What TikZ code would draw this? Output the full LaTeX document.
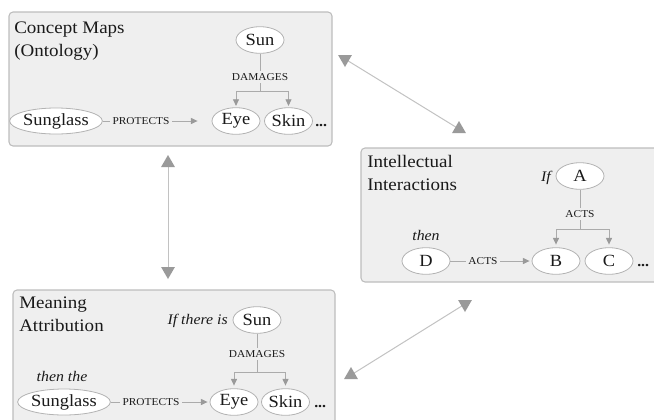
\documentclass[tikz,border=0pt]{standalone}
\usepackage{fontspec}
\setmainfont{Liberation Serif}[FakeStretch=1.08]
\usetikzlibrary{shapes.geometric,arrows.meta}

\definecolor{panelfill}{HTML}{EFEFEF}
\definecolor{panelline}{HTML}{BDBDBD}
\definecolor{ovalline}{HTML}{B3B3B3}
\definecolor{linkline}{HTML}{ABABAB}
\definecolor{tipfill}{HTML}{9A9A9A}
\definecolor{bigline}{HTML}{C2C2C2}
\definecolor{inkc}{HTML}{1A1A1A}

\tikzset{
  panel/.style={draw=panelline, fill=panelfill, rounded corners=3pt, line width=0.8pt},
  concept/.style={ellipse, draw=ovalline, fill=white, minimum width=36pt,
    minimum height=20pt, inner sep=0pt, line width=0.6pt,
    font=\fontsize{12.8}{14}\selectfont, text=inkc},
  wideconcept/.style={concept, minimum width=61.5pt, minimum height=19.5pt},
  relation/.style={font=\fontsize{7.9}{9}\selectfont, text=inkc, inner sep=2pt},
  paneltitle/.style={anchor=north west, align=left, inner sep=0pt,
    font=\fontsize{13.2}{17}\selectfont, text=inkc},
  cue/.style={font=\itshape\fontsize{11}{13}\selectfont, text=inkc, inner sep=0pt},
  more/.style={anchor=base west, inner sep=0pt, font=\bfseries\fontsize{11}{14}\selectfont, text=inkc},
  link/.style={draw=linkline, line width=0.7pt},
  linkarrow/.style={link, -{Triangle[length=5pt,width=4.5pt,color=tipfill]}},
  tipup/.style={regular polygon, regular polygon sides=3, fill=tipfill,
    minimum size=12pt, inner sep=0pt},
  tipdown/.style={tipup, shape border rotate=180},
  bigline/.style={draw=bigline, line width=0.75pt}
}

\begin{document}
\begin{tikzpicture}[x=0.75pt, y=-0.75pt]
\useasboundingbox (0,0) rectangle (654,419);
\clip (0,0) rectangle (654,419);

% ---------- panels ----------
\path[panel] (9,12) rectangle (332,146);
\path[panel] (361,148) rectangle (680,282);
\path[panel] (13,290) rectangle (335,440);

% ---------- Concept Maps (Ontology) ----------
\node[paneltitle] (t1) at (14,22) {Concept Maps\\(Ontology)};
\node[concept] (sun1) at (260,40) {Sun};
\node[concept] (eye1) at (236,121) {Eye};
\node[concept] (skin1) at (288.5,121) {Skin};
\node[wideconcept] (glass1) at (56,121) {Sunglass};
\node[more] (more1) at (315,126.5) {...};
\node[relation] (dam1) at (260,77) {DAMAGES};
\node[relation] (prot1) at (141,121) {PROTECTS};
\coordinate (fork1) at (260,91);
\draw[link] (sun1) -- (dam1);
\draw[link] (dam1) -- (fork1);
\draw[linkarrow, shorten >=1pt] (fork1) -| (eye1.north);
\draw[linkarrow, shorten >=1pt] (fork1) -| (skin1.north);
\draw[link] (glass1) -- (prot1);
\draw[linkarrow, shorten >=10.5pt] (prot1) -- (eye1);

% ---------- Intellectual Interactions ----------
\node[paneltitle] (t2) at (367,155) {Intellectual\\Interactions};
\node[concept] (na) at (580,176) {A};
\node[concept] (nb) at (556,261) {B};
\node[concept] (nc) at (609,261) {C};
\node[concept] (nd) at (426,261) {D};
\node[more] (more2) at (637,266) {...};
\node[cue, anchor=base east] (if2) at (551,181) {If};
\node[cue, anchor=base] (then2) at (426,240) {then};
\node[relation] (acts1) at (580,214) {ACTS};
\node[relation] (acts2) at (483,261) {ACTS};
\coordinate (fork2) at (580,229);
\draw[link] (na) -- (acts1);
\draw[link] (acts1) -- (fork2);
\draw[linkarrow, shorten >=2pt] (fork2) -| (nb.north);
\draw[linkarrow, shorten >=2pt] (fork2) -| (nc.north);
\draw[link] (nd) -- (acts2);
\draw[linkarrow, shorten >=1.5pt] (acts2) -- (nb);

% ---------- Meaning Attribution ----------
\node[paneltitle] (t3) at (19,297) {Meaning\\Attribution};
\node[concept] (sun3) at (257,320) {Sun};
\node[concept] (eye3) at (234,402) {Eye};
\node[concept] (skin3) at (285.5,402) {Skin};
\node[wideconcept] (glass3) at (64,402) {Sunglass};
\node[more] (more3) at (314,407) {...};
\node[cue, anchor=base east] (if3) at (228,324.5) {If there is};
\node[cue, anchor=base] (then3) at (62,381) {then the};
\node[relation] (dam3) at (257,354) {DAMAGES};
\node[relation] (prot3) at (151,402) {PROTECTS};
\coordinate (fork3) at (257,372);
\draw[link] (sun3) -- (dam3);
\draw[link] (dam3) -- (fork3);
\draw[linkarrow, shorten >=2pt] (fork3) -| (eye3.north);
\draw[linkarrow, shorten >=2pt] (fork3) -| (skin3.north);
\draw[link] (glass3) -- (prot3);
\draw[linkarrow, shorten >=1.5pt] (prot3) -- (eye3);

% ---------- links between the panels ----------
\coordinate (vtop) at (168,163);
\coordinate (vbot) at (168,271);
\coordinate (ra) at (345,59);
\coordinate (rb) at (459,129);
\coordinate (la) at (465,304);
\coordinate (lb) at (351,375);
\draw[bigline] (vtop) -- (vbot);
\draw[bigline] (ra) -- (rb);
\draw[bigline] (la) -- (lb);
\node[tipup] (vtopTip) at (vtop) {};
\node[tipdown] (vbotTip) at (vbot) {};
\node[tipdown] (raTip) at (ra) {};
\node[tipup] (rbTip) at (rb) {};
\node[tipdown] (laTip) at (la) {};
\node[tipup] (lbTip) at (lb) {};
\end{tikzpicture}
\end{document}
